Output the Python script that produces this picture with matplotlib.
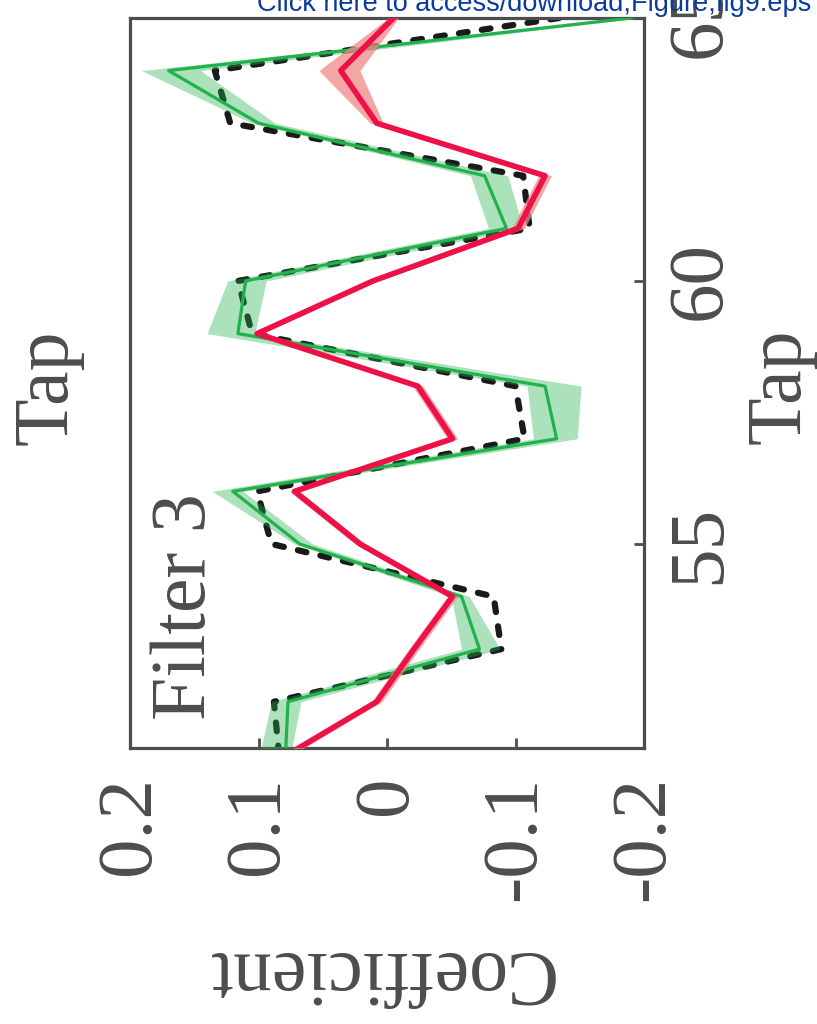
import numpy as np
import matplotlib as mpl
mpl.use("Agg")
import matplotlib.pyplot as plt

# Filter 3 taps and coefficients
taps = [51, 52, 53, 54, 55, 56, 57, 58, 59, 60, 61, 62, 63, 64, 65]
ideal = [0.084, 0.088, -0.089, -0.083, 0.090, 0.101, -0.107, -0.100,
         0.105, 0.116, -0.111, -0.106, 0.122, 0.134, -0.134]
learned_mean = [0.079, 0.077, -0.072, -0.058, 0.068, 0.120, -0.132, -0.123,
                0.116, 0.110, -0.093, -0.076, 0.100, 0.170, -0.190]
learned_lo = [0.075, 0.067, -0.088, -0.064, 0.058, 0.112, -0.148, -0.151,
              0.103, 0.094, -0.106, -0.094, 0.087, 0.145, -0.195]
learned_hi = [0.099, 0.090, -0.058, -0.050, 0.072, 0.136, -0.114, -0.109,
              0.140, 0.124, -0.079, -0.065, 0.105, 0.191, -0.185]
other_mean = [0.077, 0.008, -0.021, -0.051, 0.021, 0.072, -0.051, -0.024,
              0.101, 0.011, -0.102, -0.123, 0.008, 0.036, -0.005]
other_lo = [0.073, 0.004, -0.025, -0.055, 0.017, 0.068, -0.055, -0.028,
            0.097, 0.007, -0.107, -0.128, 0.003, 0.021, -0.009]
other_hi = [0.081, 0.012, -0.017, -0.047, 0.025, 0.076, -0.047, -0.020,
            0.105, 0.015, -0.097, -0.118, 0.013, 0.053, -0.001]

coef_ticks = [0.2, 0.1, 0, -0.1, -0.2]
coef_labels = ["0.2", "0.1", "0", "-0.1", "-0.2"]
tap_ticks = [55, 60, 65]

GREY = "#4d4d4d"
GREEN = "#22b14c"
RED = "#ee1148"

plt.rcParams["font.family"] = ["Liberation Serif", "DejaVu Serif"]
plt.rcParams["axes.unicode_minus"] = False

fig = plt.figure(figsize=(8.17, 10.24), dpi=100)
ax = fig.add_axes([130 / 817, 1 - 748 / 1024, 514 / 817, 730 / 1024])

# chart is drawn turned by 90 degrees: coefficient runs right-to-left, tap runs up
ax.plot(ideal, taps, color="#1a1a1a", lw=4.5, ls=(0, (1.4, 2.3)),
        dash_capstyle="round", zorder=2)
ax.fill_betweenx(taps, learned_lo, learned_hi, color=GREEN, alpha=0.38,
                 lw=0, zorder=3)
ax.plot(learned_mean, taps, color=GREEN, lw=2.3, zorder=4)
ax.fill_betweenx(taps, other_lo, other_hi, color="#f08a86", alpha=0.75,
                 lw=0, zorder=5)
ax.plot(other_mean, taps, color=RED, lw=4, zorder=6)

ax.set_xlim(0.2, -0.2)
ax.set_ylim(51.12, 65)
ax.set_xticks(coef_ticks)
ax.set_xticklabels(coef_labels)
ax.set_yticks(tap_ticks)
ax.yaxis.tick_right()

for s in ax.spines.values():
    s.set_color(GREY)
    s.set_linewidth(2.3)
ax.tick_params(axis="x", direction="in", length=7, width=2, color=GREY,
               labelcolor=GREY, labelsize=57, labelrotation=90, pad=20)
ax.tick_params(axis="y", direction="in", length=7, width=2, color=GREY,
               labelcolor=GREY, labelsize=57, labelrotation=90, pad=15)
for lab in ax.get_yticklabels():
    lab.set_verticalalignment("center")

ax.text(186 / 817, 1 - 607 / 1024, "Filter 3", transform=fig.transFigure,
        rotation=90, ha="center", va="center", fontsize=56, color=GREY)

fig.text(379 / 817, 1 - 971 / 1024, "Coefficient", rotation=180,
         ha="center", va="center", fontsize=56, color=GREY)
fig.text(781 / 817, 1 - 386 / 1024, "Tap", rotation=90,
         ha="center", va="center", fontsize=56, color=GREY)
fig.text(48 / 817, 1 - 387 / 1024, "Tap", rotation=90,
         ha="center", va="center", fontsize=56, color=GREY)

fig.text(257 / 817, 1 - 11 / 1024,
         "Click here to access/download;Figure;fig9.eps",
         family=["Liberation Sans", "DejaVu Sans"], fontsize=19.5,
         color="#0a3a9e", ha="left", va="baseline")

fig.savefig("out.png", dpi=100)
